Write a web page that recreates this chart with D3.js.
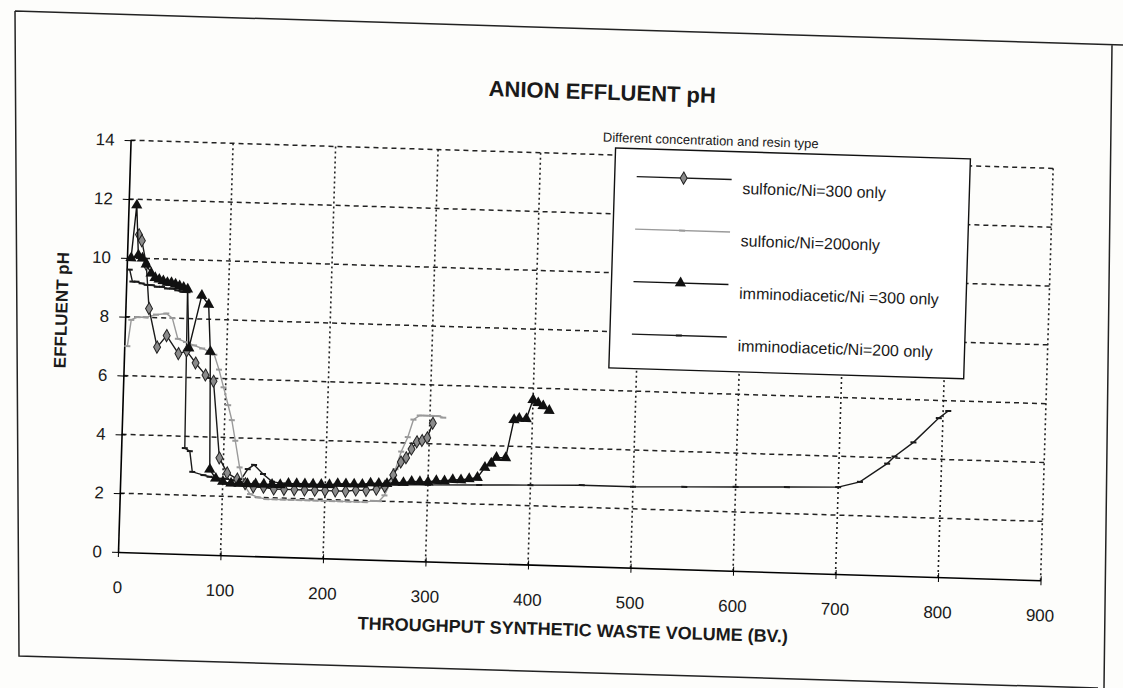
<!DOCTYPE html>
<html>
<head>
<meta charset="utf-8">
<script src="https://cdn.jsdelivr.net/npm/d3@7"></script>
<style>
  body { margin: 0; background: #fdfdfb; }
  text { font-family: "Liberation Sans", Arial, sans-serif; fill: #1a1a1a; }
</style>
</head>
<body>
<svg id="chart" width="1123" height="688"></svg>
<script>
// axis ticks
const xTicks = [0, 100, 200, 300, 400, 500, 600, 700, 800, 900];
const yTicks = [0, 2, 4, 6, 8, 10, 12, 14];

// series names (legend order)
const seriesNames = ["sulfonic/Ni=300 only", "sulfonic/Ni=200only",
  "imminodiacetic/Ni =300 only", "imminodiacetic/Ni=200 only"];

// sulfonic/Ni=300 only
const sulf300X = [11, 14, 19, 23, 32, 41, 53, 61, 70, 80, 88, 96, 104, 114, 122, 130, 140, 150, 160, 170,
  180, 190, 200, 210, 220, 230, 240, 250, 258, 266, 273, 278, 283, 288, 293, 298, 303];
const sulf300Y = [10.8, 10.6, 9.8, 8.3, 7.0, 7.4, 6.8, 6.9, 6.5, 6.1, 5.9, 3.3, 2.8, 2.6, 2.45, 2.35, 2.35, 2.3, 2.3, 2.3,
  2.3, 2.3, 2.3, 2.3, 2.3, 2.35, 2.35, 2.4, 2.5, 2.9, 3.35, 3.5, 3.8, 4.05, 4.1, 4.2, 4.7];

// sulfonic/Ni=200only
const sulf200X = [3, 6, 12, 20, 30, 40, 46, 52, 60, 68, 76, 83, 88, 93, 98, 103, 107, 111, 116, 121,
  127, 135, 143, 151, 159, 167, 175, 183, 191, 199, 207, 215, 223, 231, 239, 247, 253, 258, 263, 268,
  273, 279, 284, 290, 296, 302, 308, 313];
const sulf200Y = [7.0, 7.9, 8.0, 8.0, 8.1, 8.15, 8.0, 7.3, 7.2, 7.1, 7.0, 6.9, 6.8, 6.3, 5.7, 5.1, 4.6, 3.9, 3.0, 2.4,
  2.1, 2.0, 1.95, 1.95, 1.95, 1.95, 1.95, 1.95, 1.95, 1.95, 1.95, 1.95, 1.95, 1.95, 1.95, 2.0, 2.0, 2.2, 2.6, 3.1,
  3.7, 4.2, 4.8, 4.95, 4.95, 4.95, 4.95, 4.9];

// imminodiacetic/Ni =300 only
const imm300X = [4, 8, 11, 15, 19, 24, 28, 32, 36, 40, 44, 48, 52, 56, 60, 63, 74, 81, 84, 87,
  93, 100, 108, 116, 124, 132, 140, 148, 156, 164, 172, 180, 188, 196, 204, 212, 220, 228, 236, 244,
  252, 260, 268, 276, 284, 292, 300, 308, 316, 324, 332, 340, 348, 355, 361, 366, 375, 382, 387, 394,
  400, 405, 410, 416];
const imm300Y = [10.0, 11.8, 10.1, 10.0, 9.8, 9.5, 9.35, 9.3, 9.25, 9.2, 9.2, 9.15, 9.1, 9.05, 9.0, 7.0, 8.8, 8.5, 6.9, 2.9,
  2.6, 2.5, 2.45, 2.45, 2.45, 2.45, 2.45, 2.45, 2.45, 2.5, 2.5, 2.5, 2.5, 2.5, 2.5, 2.55, 2.55, 2.55, 2.55, 2.6,
  2.6, 2.6, 2.65, 2.65, 2.7, 2.7, 2.7, 2.75, 2.75, 2.8, 2.8, 2.85, 2.9, 3.25, 3.4, 3.6, 3.6, 4.9, 4.95, 4.95,
  5.6, 5.5, 5.4, 5.25];

// imminodiacetic/Ni=200 only
const imm200X = [3, 6, 10, 15, 20, 25, 30, 35, 40, 45, 50, 55, 60, 62, 67, 70, 81, 87, 95, 103,
  110, 118, 124, 130, 139, 148, 158, 175, 200, 250, 300, 350, 400, 450, 500, 550, 600, 650, 700, 721,
  747, 754, 772, 796, 805];
const imm200Y = [9.6, 9.2, 9.2, 9.15, 9.1, 9.1, 9.05, 9.05, 9.0, 9.0, 8.95, 8.9, 8.9, 3.6, 3.5, 2.8, 2.7, 2.65, 2.6, 2.6,
  2.55, 2.6, 2.95, 3.1, 2.8, 2.55, 2.5, 2.5, 2.5, 2.55, 2.6, 2.65, 2.7, 2.75, 2.75, 2.8, 2.85, 2.9, 2.95, 3.15,
  3.8, 4.05, 4.55, 5.4, 5.65];

const svg = d3.select("#chart");

// scanned page border
svg.append("path")
  .attr("d", "M15,11 L1123,45 M15,11 L19,656 L1098,688 M1112,45 L1104,688")
  .attr("fill", "none")
  .attr("stroke", "#222")
  .attr("stroke-width", 1.5);

const x = d3.scaleLinear().domain([0, 900]).range([118, 1041]);
const y = d3.scaleLinear().domain([0, 14]).range([552, 140]);

// the scan is slightly turned
const g = svg.append("g")
  .attr("transform", `rotate(1.75, ${x(0)}, ${y(0)})`);

// grid
g.append("g").selectAll("line")
  .data(yTicks.slice(1))
  .join("line")
  .attr("x1", x(0)).attr("x2", x(900))
  .attr("y1", d => y(d)).attr("y2", d => y(d))
  .attr("stroke", "#222").attr("stroke-width", 1.5)
  .attr("stroke-dasharray", "5,4");

g.append("g").selectAll("line")
  .data(xTicks.slice(1))
  .join("line")
  .attr("x1", d => x(d)).attr("x2", d => x(d))
  .attr("y1", y(0)).attr("y2", y(14))
  .attr("stroke", "#222").attr("stroke-width", 1.6)
  .attr("stroke-dasharray", "2,3");

// axes
const xAxis = g.append("g")
  .attr("transform", `translate(0, ${y(0)})`)
  .call(d3.axisBottom(x).tickValues(xTicks).tickSize(5).tickSizeOuter(0).tickPadding(24));
xAxis.selectAll(".tick line").attr("y1", -4);
xAxis.select(".domain").attr("stroke-width", 1.6);

const yAxis = g.append("g")
  .attr("transform", `translate(${x(0)}, 0)`)
  .call(d3.axisLeft(y).tickValues(yTicks).tickSize(6).tickSizeOuter(0).tickPadding(10));
yAxis.selectAll(".tick line").attr("x1", 4);
yAxis.select(".domain").attr("stroke-width", 1.6);

g.selectAll(".tick text")
  .style("font-family", "'Liberation Sans', Arial, sans-serif")
  .style("font-size", "17px")
  .attr("fill", "#1a1a1a");

// series
const series = [
  { name: seriesNames[0], xs: sulf300X, ys: sulf300Y, color: "#1a1a1a", marker: "diamond" },
  { name: seriesNames[1], xs: sulf200X, ys: sulf200Y, color: "#9a9a9a", marker: "dash" },
  { name: seriesNames[2], xs: imm300X, ys: imm300Y, color: "#111", marker: "triangle" },
  { name: seriesNames[3], xs: imm200X, ys: imm200Y, color: "#1a1a1a", marker: "dash" }
];

const line = d3.line().x(d => x(d[0])).y(d => y(d[1]));

function drawMarker(sel, s) {
  if (s.marker === "diamond") {
    sel.append("path")
      .attr("d", d3.symbol().type(d3.symbolDiamond).size(42))
      .attr("fill", "#8a8a8a").attr("stroke", "#222").attr("stroke-width", 1);
  } else if (s.marker === "triangle") {
    sel.append("path")
      .attr("d", d3.symbol().type(d3.symbolTriangle).size(55))
      .attr("fill", "#111");
  } else {
    sel.append("line")
      .attr("x1", -3).attr("x2", 3)
      .attr("stroke", s.color).attr("stroke-width", 2);
  }
}

// draw back to front: long line first, triangles last
[3, 1, 0, 2].forEach(i => {
  const s = series[i];
  const pts = d3.zip(s.xs, s.ys);
  g.append("path")
    .datum(pts)
    .attr("d", line)
    .attr("fill", "none")
    .attr("stroke", s.color)
    .attr("stroke-width", 1.4);
  g.append("g").selectAll("g")
    .data(pts)
    .join("g")
    .attr("transform", d => `translate(${x(d[0])}, ${y(d[1])})`)
    .each(function() { drawMarker(d3.select(this), s); });
});

// legend
const lg = g.append("g").attr("transform", "translate(603, 133)");
lg.append("rect")
  .attr("width", 355).attr("height", 220)
  .attr("fill", "#fff").attr("stroke", "#111").attr("stroke-width", 1.4);

const item = lg.selectAll(".item")
  .data(series)
  .join("g")
  .attr("class", "item")
  .attr("transform", (d, i) => `translate(0, ${28 + i * 52.5})`);

item.append("line")
  .attr("x1", 22).attr("x2", 117)
  .attr("stroke", d => d.color).attr("stroke-width", 1.4);
item.append("g")
  .attr("transform", "translate(69, 0)")
  .each(function(d) { drawMarker(d3.select(this), d); });
item.append("text")
  .attr("x", 128).attr("y", 14)
  .style("font-size", "16px")
  .text(d => d.name);

// titles
g.append("text")
  .attr("x", 588).attr("y", 85)
  .attr("text-anchor", "middle")
  .style("font-size", "22px").style("font-weight", "bold")
  .text("ANION EFFLUENT pH");

g.append("text")
  .attr("x", 698).attr("y", 127)
  .attr("text-anchor", "middle")
  .style("font-size", "13px")
  .text("Different concentration and resin type");

g.append("text")
  .attr("x", 575).attr("y", 622)
  .attr("text-anchor", "middle")
  .style("font-size", "18px").style("font-weight", "bold")
  .text("THROUGHPUT SYNTHETIC WASTE VOLUME  (BV.)");

g.append("text")
  .attr("transform", "translate(60, 312) rotate(-90)")
  .attr("text-anchor", "middle")
  .style("font-size", "17px").style("font-weight", "bold")
  .text("EFFLUENT  pH");
</script>
</body>
</html>
